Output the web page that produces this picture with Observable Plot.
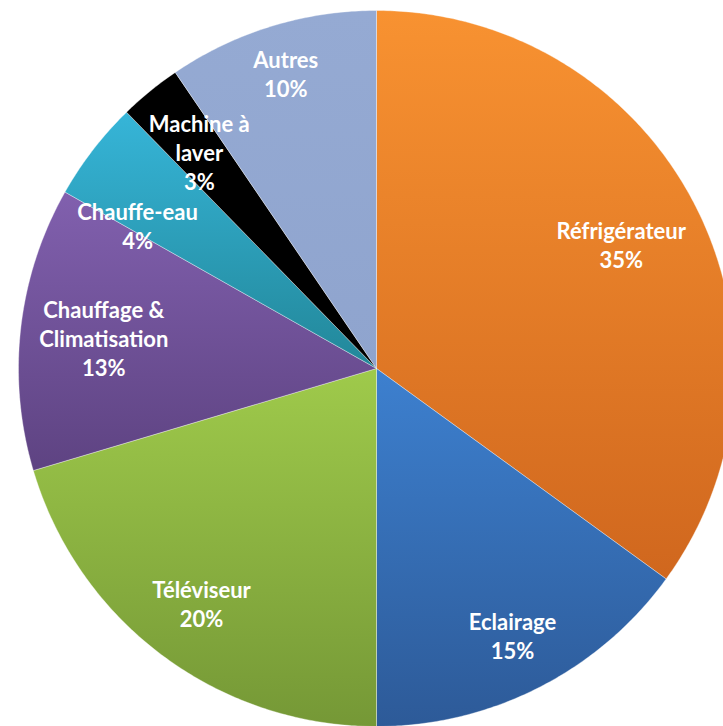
<!DOCTYPE html>
<html>
<head>
<meta charset="utf-8">
<script src="https://cdn.jsdelivr.net/npm/d3@7"></script>
<script src="https://cdn.jsdelivr.net/npm/@observablehq/plot@0.6"></script>
<style>
  html, body { margin: 0; padding: 0; background: #fff; }
  #chart svg { display: block; }
</style>
</head>
<body>
<div id="chart"></div>
<script>
// ---- data ----
const categories = ["Réfrigérateur", "Eclairage", "Téléviseur", "Chauffage & Climatisation", "Chauffe-eau", "Machine à laver", "Autres"];
// slice sizes
const shares = [35, 15, 20.4, 12.8, 4.5, 2.8, 9.5];
// percentages as printed on the labels
const percentLabels = ["35%", "15%", "20%", "13%", "4%", "3%", "10%"];
const labelLines = ["Réfrigérateur", "Eclairage", "Téléviseur", "Chauffage &\nClimatisation", "Chauffe-eau", "Machine à\nlaver", "Autres"];
const colorTop = ["#F89231", "#3D80CF", "#9FCA4B", "#8160AE", "#36B5D8", "#000000", "#95AAD3"];
const colorBottom = ["#D0671E", "#2D5A98", "#759836", "#5E4382", "#228799", "#000000", "#8FA4CE"];

// ---- geometry from data ----
const W = 723, H = 726;
const cx = 376, cy = 368, R = 358;
const FONT_SIZE = 22, LINE_H = 29, FONT = "Lato";
const arcs = d3.pie().sort(null).value(d => d)(shares);

const polys = arcs.map((a) => {
  const pts = [{x: 0, y: 0}];
  const n = Math.max(8, Math.ceil((a.endAngle - a.startAngle) / 0.01));
  for (let k = 0; k <= n; k++) {
    const t = a.startAngle + (a.endAngle - a.startAngle) * k / n;
    pts.push({x: Math.sin(t), y: Math.cos(t)});
  }
  pts.push({x: 0, y: 0});
  return pts;
});

// label placement: along the slice's mid angle, pushed out until the text box's
// outer corner reaches ~0.97 R; labels that collide are rotated within their slice
const ctx = document.createElement("canvas").getContext("2d");
ctx.font = `bold ${FONT_SIZE}px ${FONT}`;
const texts = labelLines.map((l, i) => l + "\n" + percentLabels[i]);
const boxes = texts.map(t => {
  const lines = t.split("\n");
  return {hw: d3.max(lines, s => ctx.measureText(s).width) / 2 + 2, hh: lines.length * LINE_H / 2};
});
function placeAt(i, ang) {
  const dx = Math.sin(ang), dy = Math.cos(ang);
  const {hw, hh} = boxes[i];
  const target = 0.97;
  let lo = 0, hi = 1;
  for (let k = 0; k < 40; k++) {
    const r = (lo + hi) / 2;
    const px = r * R * dx, py = r * R * dy;
    const far = Math.hypot(Math.abs(px) + hw, Math.abs(py) + hh);
    if (far > target * R) hi = r; else lo = r;
  }
  return {x: lo * dx, y: lo * dy, hw: hw / R, hh: hh / R};
}
function overlaps(a, b) {
  return Math.abs(a.x - b.x) < a.hw + b.hw && Math.abs(a.y - b.y) < a.hh + b.hh;
}
const placed = [];
for (let i = arcs.length - 1; i >= 0; i--) {
  const a = arcs[i];
  let ang = (a.startAngle + a.endAngle) / 2;
  let p = placeAt(i, ang);
  const step = -0.005;
  let guard = 0;
  while (placed.some(q => overlaps(p, q)) && guard++ < 200) {
    ang += step;
    p = placeAt(i, ang);
  }
  placed[i] = p;
}
const labels = placed.map((p, i) => ({x: p.x, y: p.y, text: texts[i]}));

const marks = polys.map((p, i) => Plot.line(p, {
  x: "x", y: "y", curve: "linear",
  fill: `url(#grad${i})`, stroke: "#ffffff", strokeOpacity: 0.35, strokeWidth: 1
}));
marks.push(Plot.text(labels, {
  x: "x", y: "y", text: "text", fill: "white", fontSize: FONT_SIZE, fontWeight: "bold",
  fontFamily: FONT, lineHeight: LINE_H / FONT_SIZE, textAnchor: "middle", lineAnchor: "middle"
}));

const chart = Plot.plot({
  width: W, height: H,
  margin: 0,
  x: {domain: [-cx / R, (W - cx) / R], axis: null},
  y: {domain: [-(H - cy) / R, cy / R], axis: null},
  style: {background: "white"},
  marks
});

const ns = "http://www.w3.org/2000/svg";
const defs = document.createElementNS(ns, "defs");
colorTop.forEach((c, i) => {
  const g = document.createElementNS(ns, "linearGradient");
  g.setAttribute("id", "grad" + i);
  g.setAttribute("x1", "0"); g.setAttribute("y1", "0");
  g.setAttribute("x2", "0"); g.setAttribute("y2", "1");
  const s1 = document.createElementNS(ns, "stop");
  s1.setAttribute("offset", "0"); s1.setAttribute("stop-color", c);
  const s2 = document.createElementNS(ns, "stop");
  s2.setAttribute("offset", "1"); s2.setAttribute("stop-color", colorBottom[i]);
  g.appendChild(s1); g.appendChild(s2);
  defs.appendChild(g);
});
chart.insertBefore(defs, chart.firstChild);
document.getElementById("chart").appendChild(chart);
</script>
</body>
</html>
